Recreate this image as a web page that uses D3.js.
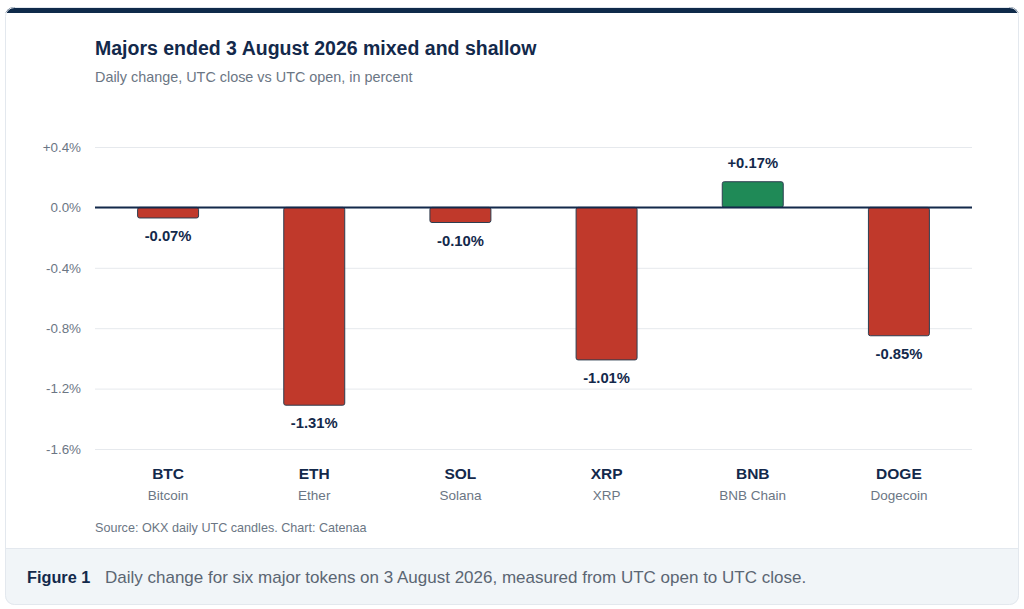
<!DOCTYPE html>
<html><head><meta charset="utf-8">
<script src="https://cdn.jsdelivr.net/npm/d3@7"></script>
<style>
html,body{margin:0;padding:0;background:#fff;}
svg{display:block;font-family:"Liberation Sans",Arial,Helvetica,sans-serif;}
</style></head>
<body>
<svg id="c" width="1024" height="609"></svg>
<script>
const tickers = ["BTC","ETH","SOL","XRP","BNB","DOGE"];
const names = ["Bitcoin","Ether","Solana","XRP","BNB Chain","Dogecoin"];
const changes = [-0.07,-1.31,-0.10,-1.01,0.17,-0.85];
const yTicks = [0.4,0.0,-0.4,-0.8,-1.2,-1.6];
const titleText = "Majors ended 3 August 2026 mixed and shallow";
const subtitleText = "Daily change, UTC close vs UTC open, in percent";
const sourceText = "Source: OKX daily UTC candles. Chart: Catenaa";
const figLabel = "Figure 1";
const figText = "Daily change for six major tokens on 3 August 2026, measured from UTC open to UTC close.";

const svg = d3.select("#c");
const navy = "#13294b";
const grey = "#6b7684";

// card
const defs = svg.append("defs");
defs.append("clipPath").attr("id","card").append("rect")
  .attr("x",5).attr("y",7).attr("width",1014).attr("height",598).attr("rx",9);
const card = svg.append("g").attr("clip-path","url(#card)");
card.append("rect").attr("x",5).attr("y",7).attr("width",1014).attr("height",598).attr("fill","#fff");
card.append("rect").attr("x",5).attr("y",548).attr("width",1014).attr("height",60).attr("fill","#f1f5f8");
card.append("line").attr("x1",5).attr("x2",1019).attr("y1",548.5).attr("y2",548.5).attr("stroke","#e3e8ee");
card.append("rect").attr("x",5).attr("y",7).attr("width",1014).attr("height",6).attr("fill","#0f2a4a");
svg.append("rect").attr("x",5.5).attr("y",7.5).attr("width",1013).attr("height",597).attr("rx",9)
  .attr("fill","none").attr("stroke","#e3e8ee");

// titles
svg.append("text").attr("x",95).attr("y",55).text(titleText)
  .attr("font-size",19.5).attr("font-weight","bold").attr("fill",navy);
svg.append("text").attr("x",95).attr("y",82).text(subtitleText)
  .attr("font-size",14.4).attr("fill",grey);

// scales
const x = d3.scaleBand().domain(tickers).range([95,972]).paddingInner(0.576).paddingOuter(0.288);
const y = d3.scaleLinear().domain([-1.6,0.4]).range([449,147]);

const fmtTick = v => (v>0?"+":"") + v.toFixed(1) + "%";
const fmtVal = v => (v>0?"+":"") + v.toFixed(2) + "%";

// grid
const yAxis = d3.axisLeft(y).tickValues(yTicks).tickSize(-(972-95)).tickFormat(fmtTick).tickPadding(14);
const gy = svg.append("g").attr("transform","translate(95,0)").call(yAxis);
gy.select(".domain").remove();
gy.selectAll(".tick line").attr("stroke","#e6e9ed").attr("stroke-width",1);
gy.selectAll(".tick text").attr("font-size",13.4).attr("fill",grey)
  .attr("font-family","Liberation Sans, Arial, sans-serif");

// bars
const bars = svg.append("g");
tickers.forEach((t,i)=>{
  const v = changes[i];
  const y0 = y(Math.max(0,v)), y1 = y(Math.min(0,v));
  bars.append("rect").attr("x",x(t)+0.5).attr("y",y0).attr("width",x.bandwidth()-1).attr("height",y1-y0)
    .attr("rx",2).attr("fill", v>=0 ? "#1f8a57" : "#c0392b")
    .attr("stroke", "#2c3e50").attr("stroke-width",1);
  svg.append("text").attr("x",x(t)+x.bandwidth()/2)
    .attr("y", v>=0 ? y(v)-14 : y(v)+23)
    .attr("text-anchor","middle").attr("font-size",14.8).attr("font-weight","bold").attr("fill",navy)
    .text(fmtVal(v));
  svg.append("text").attr("x",x(t)+x.bandwidth()/2).attr("y",479)
    .attr("text-anchor","middle").attr("font-size",15.5).attr("font-weight","bold").attr("fill",navy).text(t);
  svg.append("text").attr("x",x(t)+x.bandwidth()/2).attr("y",499.5)
    .attr("text-anchor","middle").attr("font-size",13.5).attr("fill",grey).text(names[i]);
});

// zero line
svg.append("line").attr("x1",95).attr("x2",972).attr("y1",y(0)).attr("y2",y(0))
  .attr("stroke",navy).attr("stroke-width",2);

// source
svg.append("text").attr("x",95).attr("y",531.5).text(sourceText)
  .attr("font-size",12.6).attr("fill",grey);

// caption
const cap = svg.append("text").attr("x",27).attr("y",583);
cap.append("tspan").attr("font-weight","bold").attr("font-size",16.3).attr("fill",navy).text(figLabel);
cap.append("tspan").attr("x",105).attr("font-size",17).attr("fill","#5b6673").text(figText);
</script>
</body></html>
